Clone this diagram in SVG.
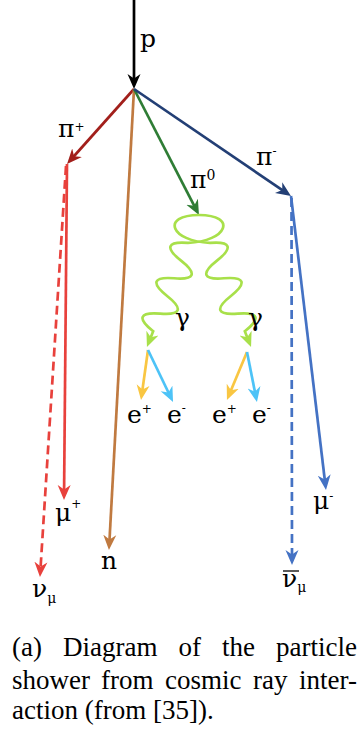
<svg xmlns="http://www.w3.org/2000/svg" width="361" height="740" viewBox="0 0 361 740">
<style>
text{font-family:"Liberation Serif","DejaVu Serif","Noto Serif",serif;fill:#000}
.lbl{font-family:"DejaVu Serif","Liberation Serif",serif;font-size:25px}
.sup{font-size:12px}
.sub{font-size:14px}
.cap{font-size:27px}
.ln{fill:none;stroke-width:2.7}
.dash{stroke-dasharray:9 5}
</style>
<defs>
<marker id="ah-k" viewBox="0 -7 16 14" refX="5" refY="0" markerWidth="16" markerHeight="14" markerUnits="userSpaceOnUse" orient="auto"><path d="M15,0 L0,-6.5 L4.5,0 L0,6.5 Z" fill="#000"/></marker>
<marker id="ah-dr" viewBox="0 -7 16 14" refX="5" refY="0" markerWidth="16" markerHeight="14" markerUnits="userSpaceOnUse" orient="auto"><path d="M15,0 L0,-6.5 L4.5,0 L0,6.5 Z" fill="#a21f1b"/></marker>
<marker id="ah-r" viewBox="0 -7 16 14" refX="5" refY="0" markerWidth="16" markerHeight="14" markerUnits="userSpaceOnUse" orient="auto"><path d="M15,0 L0,-6.5 L4.5,0 L0,6.5 Z" fill="#e8413c"/></marker>
<marker id="ah-br" viewBox="0 -7 16 14" refX="5" refY="0" markerWidth="16" markerHeight="14" markerUnits="userSpaceOnUse" orient="auto"><path d="M15,0 L0,-6.5 L4.5,0 L0,6.5 Z" fill="#c07a40"/></marker>
<marker id="ah-g" viewBox="0 -7 16 14" refX="5" refY="0" markerWidth="16" markerHeight="14" markerUnits="userSpaceOnUse" orient="auto"><path d="M15,0 L0,-6.5 L4.5,0 L0,6.5 Z" fill="#2f7d35"/></marker>
<marker id="ah-nv" viewBox="0 -7 16 14" refX="5" refY="0" markerWidth="16" markerHeight="14" markerUnits="userSpaceOnUse" orient="auto"><path d="M15,0 L0,-6.5 L4.5,0 L0,6.5 Z" fill="#233f75"/></marker>
<marker id="ah-b" viewBox="0 -7 16 14" refX="5" refY="0" markerWidth="16" markerHeight="14" markerUnits="userSpaceOnUse" orient="auto"><path d="M15,0 L0,-6.5 L4.5,0 L0,6.5 Z" fill="#4472c4"/></marker>
<marker id="ah-l" viewBox="0 -7 16 14" refX="5" refY="0" markerWidth="16" markerHeight="14" markerUnits="userSpaceOnUse" orient="auto"><path d="M15,0 L0,-6.5 L4.5,0 L0,6.5 Z" fill="#a8e04a"/></marker>
<marker id="ah-y" viewBox="0 -7 16 14" refX="5" refY="0" markerWidth="16" markerHeight="14" markerUnits="userSpaceOnUse" orient="auto"><path d="M15,0 L0,-6.5 L4.5,0 L0,6.5 Z" fill="#f9c642"/></marker>
<marker id="ah-c" viewBox="0 -7 16 14" refX="5" refY="0" markerWidth="16" markerHeight="14" markerUnits="userSpaceOnUse" orient="auto"><path d="M15,0 L0,-6.5 L4.5,0 L0,6.5 Z" fill="#4dc3f7"/></marker>
</defs>
<rect width="361" height="740" fill="#fff"/>
<g id="connectors">
<line class="ln" x1="134" y1="0" x2="134" y2="79" stroke="#000" stroke-width="3" marker-end="url(#ah-k)"/>
<line class="ln" x1="134" y1="89" x2="73.7" y2="156.5" stroke="#a21f1b" marker-end="url(#ah-dr)"/>
<line class="ln" x1="134" y1="89" x2="109.5" y2="540" stroke="#c07a40" marker-end="url(#ah-br)"/>
<line class="ln" x1="134" y1="89" x2="194.4" y2="206.1" stroke="#2f7d35" marker-end="url(#ah-g)"/>
<line class="ln" x1="134" y1="89" x2="282.7" y2="190.4" stroke="#233f75" marker-end="url(#ah-nv)"/>
<line class="ln" x1="67" y1="164" x2="64.1" y2="490" stroke="#e8413c" marker-end="url(#ah-r)"/>
<line class="ln dash" x1="66" y1="166" x2="40.6" y2="567" stroke="#e8413c" marker-end="url(#ah-r)"/>
<line class="ln" x1="291" y1="196" x2="324.8" y2="480" stroke="#4472c4" marker-end="url(#ah-b)"/>
<line class="ln dash" x1="291.5" y1="198" x2="292" y2="555" stroke="#4472c4" marker-end="url(#ah-b)"/>
<path class="ln" stroke="#a8e04a" transform="translate(199,215) rotate(111.5)" d="M0,0 c-14,-36 14,-36 30,0 c6,20 13,20 19,0 c6,-20 13,-20 19,0 c6,20 13,20 19,0 c6,-20 13,-20 19,0 c6,20 13,20 19,0 l7,0" marker-end="url(#ah-l)"/>
<path class="ln" stroke="#a8e04a" transform="translate(199,215) rotate(68.5)" d="M0,0 c-14,36 14,36 30,0 c6,-20 13,-20 19,0 c6,20 13,20 19,0 c6,-20 13,-20 19,0 c6,20 13,20 19,0 c6,-20 13,-20 19,0 l7,0" marker-end="url(#ah-l)"/>
<line class="ln" x1="148" y1="350" x2="142.4" y2="390.1" stroke="#f9c642" marker-end="url(#ah-y)"/>
<line class="ln" x1="148" y1="350" x2="168.7" y2="393" stroke="#4dc3f7" marker-end="url(#ah-c)"/>
<line class="ln" x1="247" y1="352" x2="230.8" y2="390.8" stroke="#f9c642" marker-end="url(#ah-y)"/>
<line class="ln" x1="247" y1="352" x2="255" y2="392.2" stroke="#4dc3f7" marker-end="url(#ah-c)"/>
</g>
<g id="p"><text class="lbl" x="140" y="47">p</text></g>
<g id="pi_plus"><text class="lbl" x="58" y="137">π<tspan class="sup" dy="-6">+</tspan></text></g>
<g id="pi_zero"><text class="lbl" x="190" y="188">π<tspan font-size="14" dy="-8">0</tspan></text></g>
<g id="pi_minus"><text class="lbl" x="256" y="165">π<tspan class="sup" dy="-10">-</tspan></text></g>
<g id="gamma_left"><text class="lbl" x="175" y="326">γ</text></g>
<g id="gamma_right"><text class="lbl" x="248" y="326">γ</text></g>
<g id="e_plus_left"><text class="lbl" x="127" y="423">e<tspan class="sup" dy="-10">+</tspan></text></g>
<g id="e_minus_left"><text class="lbl" x="167" y="423">e<tspan class="sup" dy="-11">-</tspan></text></g>
<g id="e_plus_right"><text class="lbl" x="212" y="423">e<tspan class="sup" dy="-10">+</tspan></text></g>
<g id="e_minus_right"><text class="lbl" x="252" y="423">e<tspan class="sup" dy="-11">-</tspan></text></g>
<g id="mu_plus"><text class="lbl" x="55" y="521">μ<tspan class="sup" dy="-13">+</tspan></text></g>
<g id="nu_mu"><text class="lbl" x="32" y="597">ν<tspan class="sub" dy="6">μ</tspan></text></g>
<g id="n"><text class="lbl" x="101" y="569">n</text></g>
<g id="mu_minus"><text class="lbl" x="313" y="509">μ<tspan class="sup" dy="-9">-</tspan></text></g>
<g id="nubar_mu"><text class="lbl" x="282" y="587">ν<tspan class="sub" dy="5">μ</tspan></text><line x1="283" y1="571" x2="299" y2="571" stroke="#000" stroke-width="1.3"/></g>
<g id="caption">
<text class="cap" x="12" y="656">(a)</text>
<text class="cap" x="63" y="656">Diagram</text>
<text class="cap" x="178.5" y="656">of</text>
<text class="cap" x="222" y="656">the</text>
<text class="cap" x="357" y="656" text-anchor="end">particle</text>
<text class="cap" x="12" y="689">shower</text>
<text class="cap" x="101" y="689">from</text>
<text class="cap" x="165" y="689">cosmic</text>
<text class="cap" x="253" y="689">ray</text>
<text class="cap" x="357" y="689" text-anchor="end">inter-</text>
<text class="cap" x="12" y="719">action (from [35]).</text>
</g>
</svg>
